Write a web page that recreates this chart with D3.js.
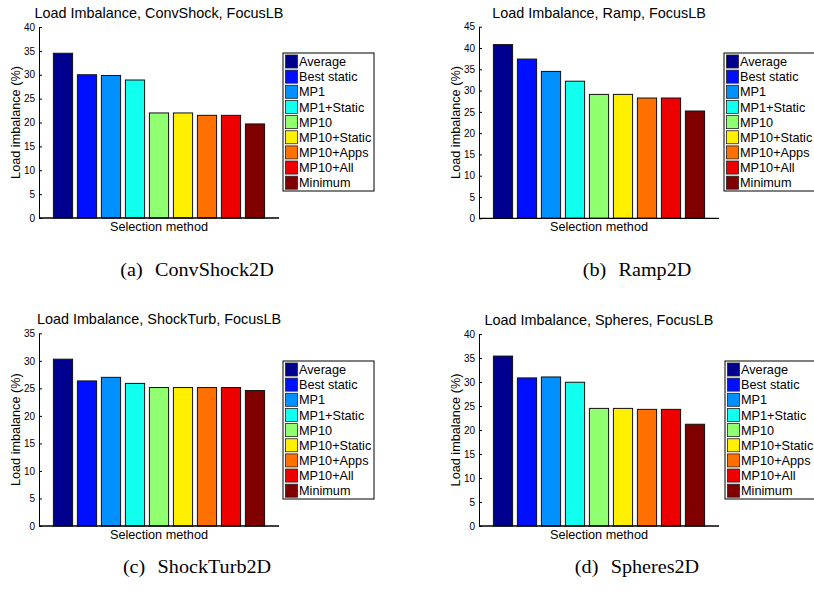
<!DOCTYPE html>
<html>
<head>
<style>
  body { margin: 0; background: #fff; }
  svg text { font-family: "Liberation Sans", Arial, sans-serif; fill: #000; }
  .caption { font-family: "Liberation Serif", "Times New Roman", serif; }
</style>
<script src="https://cdnjs.cloudflare.com/ajax/libs/d3/7.8.5/d3.min.js"></script>
</head>
<body>
<script>
const methods = ["Average", "Best static", "MP1", "MP1+Static", "MP10",
                 "MP10+Static", "MP10+Apps", "MP10+All", "Minimum"];
const colors = ["#00008f", "#0010ff", "#0090ff", "#10ffef", "#90ff70",
                "#ffef00", "#ff7000", "#ef0000", "#800000"];

const convShock = [34.5, 30.0, 29.85, 28.9, 22.0, 22.0, 21.5, 21.5, 19.7];
const ramp      = [40.8, 37.4, 34.5, 32.2, 29.1, 29.1, 28.25, 28.25, 25.2];
const shockTurb = [30.3, 26.35, 27.0, 25.9, 25.15, 25.15, 25.15, 25.15, 24.6];
const spheres   = [35.4, 30.85, 31.05, 29.95, 24.5, 24.5, 24.3, 24.3, 21.2];

const titles = ["Load Imbalance, ConvShock, FocusLB", "Load Imbalance, Ramp, FocusLB",
                "Load Imbalance, ShockTurb, FocusLB", "Load Imbalance, Spheres, FocusLB"];
const tags = ["(a)", "(b)", "(c)", "(d)"];
const captions = ["ConvShock2D", "Ramp2D", "ShockTurb2D", "Spheres2D"];
const yMax = [40, 45, 35, 40];
const series = [convShock, ramp, shockTurb, spheres];

const svg = d3.select("body").append("svg")
    .attr("width", 814).attr("height", 596);

// panel boxes: left, top, bottom of the axes
const panels = [
  { left: 39,  top: 27,    bottom: 218,   lx: 283, ly: 53,  cx: 197, cy: 276 },
  { left: 479, top: 26.7,  bottom: 218.3, lx: 724, ly: 53,  cx: 637, cy: 276 },
  { left: 39,  top: 333.3, bottom: 526,   lx: 283, ly: 361, cx: 197, cy: 573 },
  { left: 479, top: 334,   bottom: 526,   lx: 725, ly: 361, cx: 637, cy: 573 }
];

panels.forEach((p, k) => {
  const data = series[k];
  const x = d3.scaleLinear().domain([0, 10]).range([p.left, p.left + 240]);
  const y = d3.scaleLinear().domain([0, yMax[k]]).range([p.bottom, p.top]);

  const g = svg.append("g");

  g.selectAll("rect.bar")
    .data(data)
    .enter().append("rect")
    .attr("class", "bar")
    .attr("x", (d, i) => x(i + 1 - 0.4))
    .attr("width", x(0.8) - x(0))
    .attr("y", d => y(d))
    .attr("height", d => y(0) - y(d))
    .style("fill", (d, i) => colors[i])
    .style("stroke", "#111")
    .style("stroke-width", 1);

  // baseline
  g.append("line")
    .attr("x1", x(0)).attr("x2", x(10))
    .attr("y1", y(0)).attr("y2", y(0))
    .style("stroke", "#000").style("stroke-width", 1.3);

  const axis = d3.axisLeft(y)
    .tickValues(d3.range(0, yMax[k] + 1, 5))
    .tickSizeInner(-3).tickSizeOuter(0).tickPadding(4);

  const ga = g.append("g")
    .attr("transform", `translate(${p.left},0)`)
    .call(axis);
  ga.select(".domain").style("stroke", "#000");
  ga.selectAll(".tick line").style("stroke", "#000");
  ga.selectAll("text").style("font-size", "10px")
    .style("font-family", "Liberation Sans, Arial, sans-serif");

  g.append("text")
    .attr("x", p.left + 120).attr("y", p.top - 9)
    .attr("text-anchor", "middle")
    .style("font-size", "14.4px")
    .text(titles[k]);

  g.append("text")
    .attr("x", p.left + 120).attr("y", p.bottom + 12.5)
    .attr("text-anchor", "middle")
    .style("font-size", "12.7px")
    .text("Selection method");

  g.append("text")
    .attr("transform", `translate(${p.left - 19},${(p.top + p.bottom) / 2}) rotate(-90)`)
    .attr("text-anchor", "middle")
    .style("font-size", "12.7px")
    .text("Load imbalance (%)");

  // legend
  const lg = g.append("g").attr("transform", `translate(${p.lx},${p.ly})`);
  lg.append("rect")
    .attr("width", 91).attr("height", 138)
    .style("fill", "#fff").style("stroke", "#000").style("stroke-width", 1);
  const rows = lg.selectAll("g.row")
    .data(methods)
    .enter().append("g")
    .attr("class", "row")
    .attr("transform", (d, i) => `translate(0,${8.5 + i * 15.15})`);
  rows.append("rect")
    .attr("x", 2.5).attr("y", -6.5)
    .attr("width", 12).attr("height", 13)
    .style("fill", (d, i) => colors[i])
    .style("stroke", "#222").style("stroke-width", 0.8);
  rows.append("text")
    .attr("x", 16).attr("dy", "0.36em")
    .style("font-size", "12.7px")
    .text(d => d);

  // caption
  const ct = g.append("text")
    .attr("class", "caption")
    .attr("transform", `translate(${p.cx},${p.cy}) scale(1.12,1)`)
    .attr("text-anchor", "middle")
    .style("font-size", "18px");
  ct.append("tspan").text(tags[k]);
  ct.append("tspan").attr("dx", 11).text(captions[k]);
});
</script>
</body>
</html>
